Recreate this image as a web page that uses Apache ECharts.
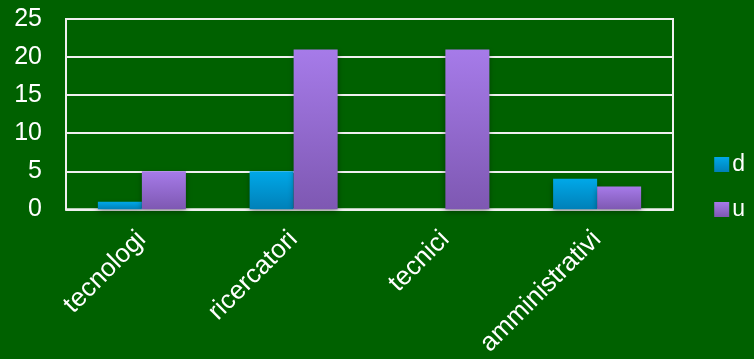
<!DOCTYPE html>
<html><head><meta charset="utf-8">
<script src="https://cdn.jsdelivr.net/npm/echarts@6/dist/echarts.min.js"></script>
<style>html,body{margin:0;padding:0;background:#006100;}#c{width:754px;height:359px;}</style>
</head><body><div id="c"></div>
<script>
const categories = ['tecnologi', 'ricercatori', 'tecnici', 'amministrativi'];
const seriesD = [1, 5, 0, 4];
const seriesU = [5, 21, 21, 3];
const yTicks = [0, 5, 10, 15, 20, 25];

const chart = echarts.init(document.getElementById('c'));
function grad(top, bottom) {
  return new echarts.graphic.LinearGradient(0, 0, 0, 1, [{offset: 0, color: top}, {offset: 1, color: bottom}]);
}
chart.setOption({
  backgroundColor: '#006100',
  animation: false,
  textStyle: {fontFamily: 'Liberation Sans, Arial, sans-serif'},
  grid: {left: 66, right: 81, top: 19, bottom: 148, show: true, borderColor: '#f0f0f0', borderWidth: 2, backgroundColor: 'transparent'},
  legend: {
    orient: 'vertical', right: 4, top: 148, itemWidth: 15, itemHeight: 15, itemGap: 22,
    icon: 'rect',
    textStyle: {color: '#ffffff', fontSize: 23, lineHeight: 22, padding: [0, 0, 0, -2]},
    data: ['d', 'u']
  },
  xAxis: {
    type: 'category', data: categories,
    axisLine: {show: true, lineStyle: {color: '#f0f0f0', width: 2}},
    axisTick: {show: false},
    axisLabel: {color: '#ffffff', fontSize: 26, rotate: 45, margin: 26, interval: 0}
  },
  yAxis: {
    type: 'value', min: yTicks[0], max: yTicks[yTicks.length - 1], interval: 5,
    axisLine: {show: false}, axisTick: {show: false},
    axisLabel: {color: '#ffffff', fontSize: 25, margin: 24},
    splitLine: {lineStyle: {color: '#f0f0f0', width: 2}}
  },
  series: [
    {name: 'd', type: 'bar', data: seriesD, barGap: '0%', barCategoryGap: '42%',
     itemStyle: {color: grad('#00a8e8', '#0080b8'), shadowColor: 'rgba(0,0,0,0.35)', shadowBlur: 6, shadowOffsetY: 3}},
    {name: 'u', type: 'bar', data: seriesU, barGap: '0%', barCategoryGap: '42%',
     itemStyle: {color: grad('#a67be9', '#7e58b2'), shadowColor: 'rgba(0,0,0,0.35)', shadowBlur: 6, shadowOffsetY: 3}}
  ]
});
</script></body></html>
